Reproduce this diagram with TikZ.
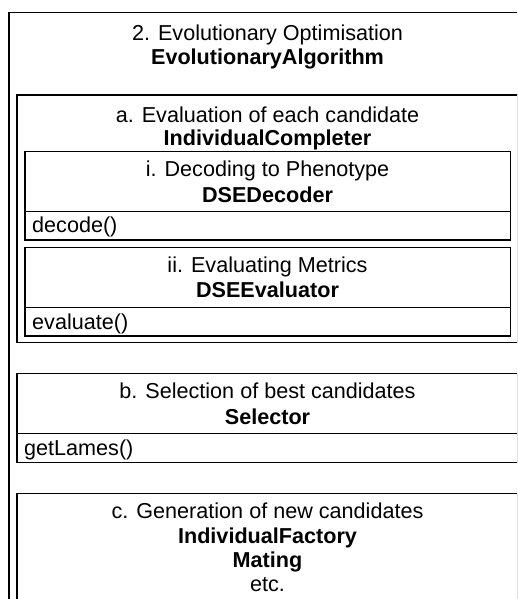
\documentclass[tikz,border=0pt]{standalone}
\usepackage{fontspec}
\setmainfont{Liberation Sans}
\begin{document}
\begin{tikzpicture}[x=1pt,y=-1pt,
  box/.style={draw=black,line width=1.4pt},
  sep/.style={draw=black,line width=1.4pt},
  ttl/.style={anchor=base,inner sep=0pt,font=\fontsize{21.6}{24}\selectfont},
  cls/.style={anchor=base,inner sep=0pt,font=\fontsize{21.6}{24}\selectfont\bfseries},
  meth/.style={anchor=base west,inner sep=0pt,font=\fontsize{21.6}{24}\selectfont}]
\clip (0,0) rectangle (517,599);
\fill[white] (0,0) rectangle (517,599);
% outer box
\draw[box] (9,12.5) rectangle (526,620);
\node[ttl] (t0) at (267.5,41) {2. Evolutionary Optimisation};
\node[cls] (c0) at (267.5,65) {EvolutionaryAlgorithm};
% box a
\draw[box] (17,95) rectangle (518,342.5);
\node[ttl] (ta) at (267.5,122) {a. Evaluation of each candidate};
\node[cls] (ca) at (267.5,146) {IndividualCompleter};
% box i
\draw[box] (25,151.7) rectangle (510.3,240);
\draw[sep] (25,211.7) -- (510.3,211.7);
\node[ttl] (ti) at (267.5,176) {i. Decoding to Phenotype};
\node[cls] (ci) at (267.5,202) {DSEDecoder};
\node[meth] (mi) at (32,232) {decode()};
% box ii
\draw[box] (25,247.3) rectangle (510.3,336);
\draw[sep] (25,307.7) -- (510.3,307.7);
\node[ttl] (tii) at (267.5,272) {ii. Evaluating Metrics};
\node[cls] (cii) at (267.5,297) {DSEEvaluator};
\node[meth] (mii) at (32,329) {evaluate()};
% box b
\draw[box] (17,373.3) rectangle (518,462.7);
\draw[sep] (17,433.3) -- (518,433.3);
\node[ttl] (tb) at (267.5,398) {b. Selection of best candidates};
\node[cls] (cb) at (267.5,424) {Selector};
\node[meth] (mb) at (24,455) {getLames()};
% box c
\draw[box] (17,493.3) rectangle (518,620);
\node[ttl] (tc) at (267.5,518) {c. Generation of new candidates};
\node[cls] (cc1) at (267.5,543) {IndividualFactory};
\node[cls] (cc2) at (267.5,567) {Mating};
\node[ttl] (cc3) at (267.5,591) {etc.};
\end{tikzpicture}
\end{document}
